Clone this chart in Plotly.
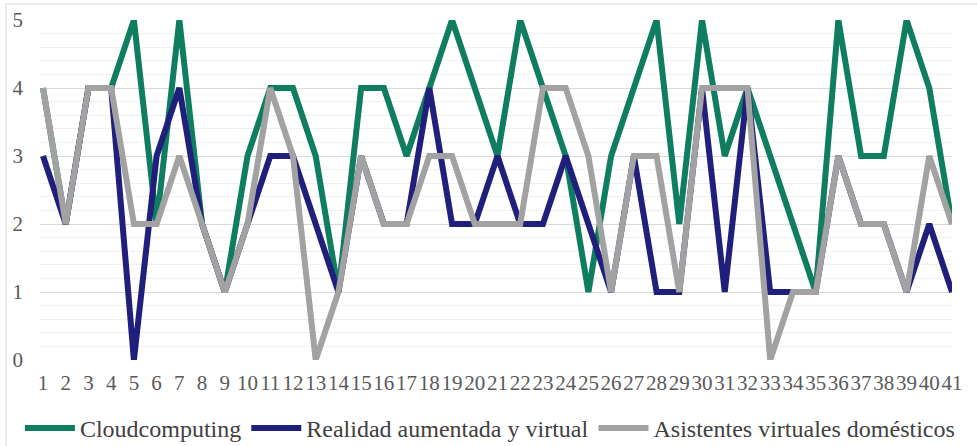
import plotly.graph_objects as go

categories = list(range(1, 42))
tick_labels = [str(c) for c in categories]

cloudcomputing = [4, 2, 4, 4, 5, 2, 5, 2, 1, 3,
                  4, 4, 3, 1, 4, 4, 3, 4, 5, 4,
                  3, 5, 4, 3, 1, 3, 4, 5, 2, 5,
                  3, 4, 3, 2, 1, 5, 3, 3, 5, 4, 2]
realidad = [3, 2, 4, 4, 0, 3, 4, 2, 1, 2,
            3, 3, 2, 1, 3, 2, 2, 4, 2, 2,
            3, 2, 2, 3, 2, 1, 3, 1, 1, 4,
            1, 4, 1, 1, 1, 3, 2, 2, 1, 2, 1]
asistentes = [4, 2, 4, 4, 2, 2, 3, 2, 1, 2,
              4, 3, 0, 1, 3, 2, 2, 3, 3, 2,
              2, 2, 4, 4, 3, 1, 3, 3, 1, 4,
              4, 4, 0, 1, 1, 3, 2, 2, 1, 3, 2]

series = [
    ("Cloudcomputing", cloudcomputing, "#0f7d5f"),
    ("Realidad aumentada y virtual", realidad, "#211f7c"),
    ("Asistentes virtuales domésticos", asistentes, "#a2a2a2"),
]

fig = go.Figure()
for name, vals, color in series:
    fig.add_trace(go.Scatter(
        x=categories, y=vals, name=name, mode="lines",
        line=dict(color=color, width=6),
    ))

font_family = "Liberation Serif"
fig.update_layout(
    width=977, height=446,
    margin=dict(l=40, r=25, t=20, b=86, autoexpand=False),
    paper_bgcolor="white", plot_bgcolor="white",
    font=dict(family=font_family, color="#595959", size=21),
    showlegend=True,
    legend=dict(orientation="h", x=-0.022, y=-0.135, xanchor="left", yanchor="top",
                font=dict(size=24, color="#404040", family=font_family),
                itemwidth=50, bgcolor="rgba(0,0,0,0)"),
    xaxis=dict(
        range=[0.868, 41.0], tickmode="array", tickvals=categories, ticktext=tick_labels,
        tickangle=0, showgrid=False, zeroline=False, showline=False, ticks="",
        ticklabelstandoff=8, tickfont=dict(size=21, family=font_family),
    ),
    yaxis=dict(
        range=[0, 5], dtick=1, showgrid=True, gridcolor="#d9d9d9", gridwidth=1,
        zeroline=False, showline=False, ticks="", ticklabelstandoff=16,
        tickfont=dict(size=21, family=font_family),
        minor=dict(dtick=0.2, showgrid=True, gridcolor="#f0f0f0", gridwidth=1),
    ),
    shapes=[
        dict(type="line", xref="paper", yref="paper", x0=-0.0373, x1=1.03, y0=1.047, y1=1.047,
             line=dict(color="#d9d9d9", width=1)),
        dict(type="line", xref="paper", yref="paper", x0=-0.0373, x1=-0.0373, y0=1.047, y1=-0.26,
             line=dict(color="#d9d9d9", width=1)),
    ],
)

fig.write_html(
    "out.html",
    config={"displayModeBar": False},
    post_script="document.body.style.margin='0';document.body.style.overflow='hidden';",
)
